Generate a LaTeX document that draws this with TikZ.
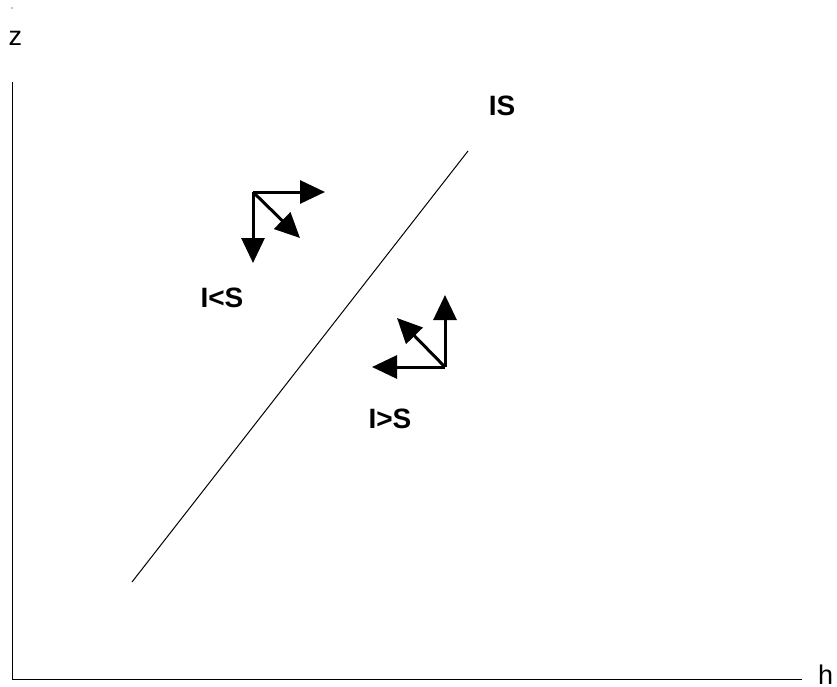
\documentclass[tikz,border=0pt]{standalone}
\usepackage{fontspec}
\setmainfont{Liberation Sans}
\usetikzlibrary{arrows.meta}

\begin{document}
\begin{tikzpicture}[x=1pt, y=-1pt,
    axis/.style={line width=1.2pt},
    flow/.style={line width=3pt, -{Triangle[length=25pt, width=23pt]}},
    lbl/.style={font=\fontsize{28}{32}\selectfont\bfseries, inner sep=0pt},
    axlbl/.style={font=\fontsize{27}{31}\selectfont, inner sep=0pt}]
\useasboundingbox (0,0) rectangle (837,687);
% axes
\coordinate (origin) at (12.5,679.5);
\coordinate (ztop) at (12.5,82);
\coordinate (hend) at (802,679.5);
\draw[axis] (ztop) -- (origin) -- (hend);
\node[axlbl, anchor=base] (zlbl) at (15.5,46) {z};
\node[axlbl, anchor=base west] (hlbl) at (818,684) {h};
\fill (12,8) circle (0.6pt);

% equilibrium line I = S
\coordinate (isbot) at (132,582);
\coordinate (istop) at (468,151);
\draw[line width=1pt] (isbot) -- (istop);
\node[lbl, anchor=base] (islbl) at (502,116) {IS};

% I<S side
\coordinate (lscorner) at (253,192);
\coordinate (lsright) at (325,192);
\coordinate (lsdown) at (253,263);
\coordinate (lsdiag) at (300,238);
\draw[flow] (lscorner) -- (lsright);
\draw[flow] (lscorner) -- (lsdown);
\draw[flow] (lscorner) -- (lsdiag);
\node[lbl, anchor=base] (lslbl) at (222,307) {I<S};

% I>S side
\coordinate (gscorner) at (445,367);
\coordinate (gsup) at (445,295);
\coordinate (gsleft) at (372,367);
\coordinate (gsdiag) at (397,318);
\draw[flow] (gscorner) -- (gsup);
\draw[flow] (gscorner) -- (gsleft);
\draw[flow] (gscorner) -- (gsdiag);
\node[lbl, anchor=base] (gslbl) at (390,428) {I>S};
\end{tikzpicture}
\end{document}
